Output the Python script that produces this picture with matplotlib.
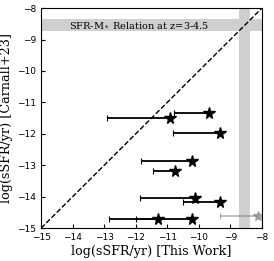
import numpy as np
import matplotlib.pyplot as plt

# log sSFR from this work (x) vs Carnall+23 (y), one-sided lower x errors
x_this = [-10.9, -9.69, -9.34, -10.23, -10.77, -10.13, -9.34, -11.28, -10.22]
y_carn = [-11.5, -11.33, -11.97, -12.86, -13.17, -14.03, -14.17, -14.7, -14.7]
x_low = [-12.9, -10.8, -10.82, -11.83, -11.46, -11.85, -10.49, -11.98, -12.85]

# upper-limit style grey point
x_grey = [-8.12]
y_grey = [-14.6]
x_grey_low = [-9.32]

ms_band = (-8.72, -8.35)
ms_vband = (-8.72, -8.37)

fig = plt.figure(figsize=(2.74, 2.61), dpi=100)
ax = fig.add_axes([0.15, 0.126, 0.806, 0.843])

ax.axhspan(ms_band[0], ms_band[1], color='#cfcfcf', lw=0, zorder=0)
ax.axvspan(ms_vband[0], ms_vband[1], color='#cfcfcf', lw=0, zorder=0)
ax.text(-11.9, np.mean(ms_band), r'SFR-M$_*$ Relation at z=3-4.5', ha='center', va='center',
        fontsize=7, family='DejaVu Serif')

ax.plot([-15, -8], [-15, -8], 'k--', lw=1)

xerr = [np.array(x_this) - np.array(x_low), np.zeros(len(x_this))]
ax.errorbar(x_this, y_carn, xerr=xerr, fmt='*', color='k', ms=8.5, capsize=2, elinewidth=1.3, capthick=0.8)
gerr = [np.array(x_grey) - np.array(x_grey_low), np.zeros(1)]
ax.errorbar(x_grey, y_grey, xerr=gerr, fmt='*', color='gray', alpha=0.6, ms=7, capsize=2, elinewidth=1.2, capthick=0.8)

ax.set_xlim(-15, -8)
ax.set_ylim(-15, -8)
ax.set_xticks(np.arange(-15, -7))
ax.set_yticks(np.arange(-15, -7))
ax.tick_params(direction='in', labelsize=6.5, length=3)
ax.set_xlabel('log(sSFR/yr) [This Work]', family='DejaVu Serif', fontsize=9.2, labelpad=2)
ax.set_ylabel('log(sSFR/yr) [Carnall+23]', family='DejaVu Serif', fontsize=9.2, labelpad=3)

fig.savefig('out.png', dpi=100)
